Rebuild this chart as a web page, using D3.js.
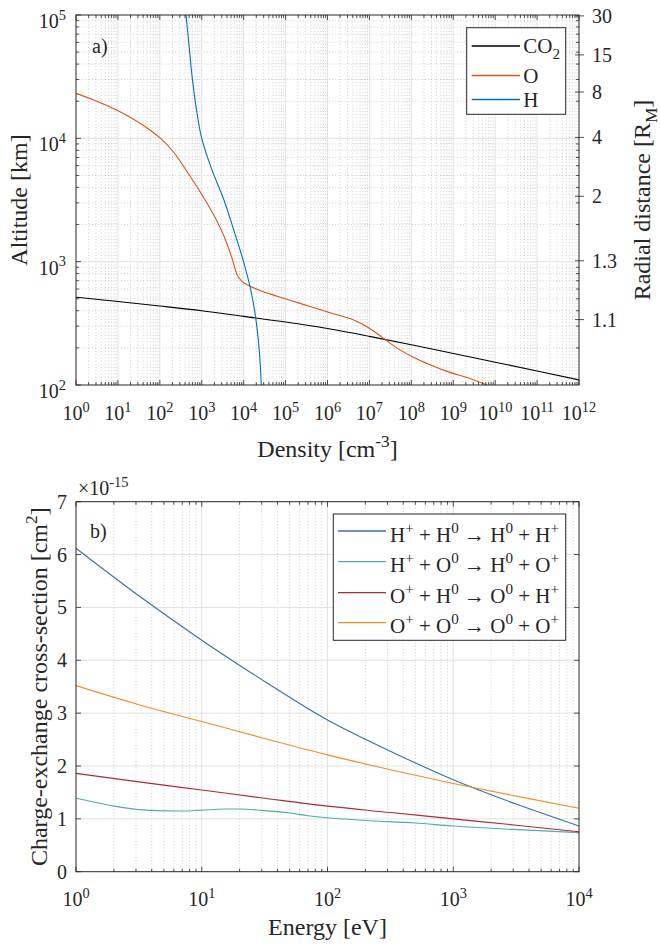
<!DOCTYPE html>
<html><head><meta charset="utf-8">
<script src="https://cdn.jsdelivr.net/npm/d3@7"></script>
<style>
body{margin:0;background:#fff}
svg text{fill:#262626;white-space:pre}
</style></head><body>
<svg id="chart" width="660" height="946" font-family="'Liberation Serif','Times New Roman',Tinos,'DejaVu Serif',serif"></svg>
<script>
// ---- Panel a: neutral density profiles (cm^-3) against altitude (km) ----
const co2Density  = [1e0, 1e1, 1e2, 1e3, 1e4, 1e5, 1e6, 1e7, 1e8, 1e9, 1e10, 1e11, 1e12];
const co2Altitude = [515, 475, 437, 400, 360, 324, 287, 248, 212, 180, 153, 130, 110];

const oDensity  = [1, 3.16, 9.33, 58.2, 100, 209, 437, 1000, 1995, 3548, 5248, 6918, 8913,
                   12590, 25120, 63100, 2.21e5, 1.15e6, 3.98e6, 1e7, 2.14e7, 4.47e7, 1.12e8,
                   2.79e8, 7.08e8, 2.51e9, 6.31e9];
const oAltitude = [23170, 19950, 16980, 11670, 10120, 7780, 5430, 3508, 2344, 1549, 1072, 785, 700,
                   646, 582, 525, 459, 385, 339, 288, 240, 200, 168,
                   146, 129, 113, 100];

const hDensity  = [421, 498, 589, 735, 998, 1726, 3388, 5888, 9931, 15240, 20180, 23930, 26360];
const hAltitude = [100000, 56230, 31620, 17780, 10000, 5623, 3162, 1778, 1000, 562, 316, 178, 100];

const speciesNames  = ["CO_2", "O", "H"];
const speciesColors = ["#000000", "#D95319", "#0072BD"];

// right-hand axis: radial distance in Mars radii
const marsRadiusKm = 3390;
const radialTicks = [1.1, 1.3, 2, 4, 8, 15, 30];

// ---- Panel b: charge-exchange cross-sections (10^-15 cm^2) against energy (eV) ----
const energy   = [1, 3.16, 10, 31.6, 100, 316, 1000, 3162, 10000];
const sigmaHH  = [6.12, 5.22, 4.38, 3.60, 2.87, 2.28, 1.74, 1.28, 0.865];
const sigmaOH  = [1.86, 1.70, 1.545, 1.39, 1.24, 1.12, 1.00, 0.88, 0.757];
const sigmaOO  = [3.52, 3.16, 2.84, 2.52, 2.21, 1.93, 1.67, 1.43, 1.20];
const energyHO = [1, 1.5, 2, 3, 5, 7, 10, 15, 20, 30, 50, 70, 100, 200, 500, 1000, 3000, 10000];
const sigmaHO  = [1.39, 1.30, 1.24, 1.18, 1.15, 1.148, 1.165, 1.185, 1.186, 1.16, 1.11, 1.06, 1.02, 0.97, 0.92, 0.865, 0.80, 0.74];

const reactionNames  = ["H^+ + H^0 \u2192 H^0 + H^+", "H^+ + O^0 \u2192 H^0 + O^+",
                        "O^+ + H^0 \u2192 O^0 + H^+", "O^+ + O^0 \u2192 O^0 + O^+"];
const reactionColors = ["#3b6fa3", "#52abab", "#ad2b35", "#f08c2a"];

const yTicksB = [0, 1, 2, 3, 4, 5, 6, 7];

// ---------------------------------------------------------------
const svg = d3.select("#chart");
const AX = "#262626", GRID = "#e2e2e2", MINOR = "#b9b9b9";
const TICK_FS = 20, LABEL_FS = 24, LEG_FS = 21;

// text with ^x / ^{..} superscripts and _x subscripts
function rich(sel, str, fs) {
  const re = /([\^_])(\{[^}]*\}|.)|([^\^_]+)/g;
  let m, cur = 0;
  while ((m = re.exec(str))) {
    if (m[3]) {
      sel.append("tspan").attr("dy", -cur).attr("font-size", fs).text(m[3]);
      cur = 0;
    } else {
      let s = m[2]; if (s[0] === "{") s = s.slice(1, -1);
      const t = m[1] === "^" ? -0.42 * fs : 0.3 * fs;
      sel.append("tspan").attr("dy", t - cur).attr("font-size", fs * 0.72).text(s);
      cur = t;
    }
  }
  return sel;
}
function label(g, x, y, str, fs, anchor, rot) {
  const t = g.append("text").attr("font-size", fs).attr("text-anchor", anchor || "start")
    .attr("transform", `translate(${x},${y})` + (rot ? ` rotate(${rot})` : ""));
  return rich(t, str, fs);
}
function minorLog(lo, hi) {
  const out = [];
  for (let e = Math.round(Math.log10(lo)); e < Math.round(Math.log10(hi)); e++)
    for (let m = 2; m <= 9; m++) out.push(m * Math.pow(10, e));
  return out;
}
function decades(lo, hi) {
  const out = [];
  for (let e = Math.round(Math.log10(lo)); e <= Math.round(Math.log10(hi)); e++) out.push(Math.pow(10, e));
  return out;
}

// ================= Panel a =================
const L = 76, R = 579;
const xA = d3.scaleLog().domain([1, 1e12]).range([L, R]);
const yA = d3.scaleLog().domain([100, 1e5]).range([385, 15]);
const gA = svg.append("g");

svg.append("defs").html(
  `<clipPath id="clipA"><rect x="${L}" y="15" width="${R - L}" height="370"/></clipPath>
   <clipPath id="clipB"><rect x="${L}" y="501.7" width="${R - L}" height="370"/></clipPath>`);

// grid
const xAMinor = minorLog(1, 1e12), yAMinor = minorLog(100, 1e5);
gA.selectAll(".vxm").data(xAMinor).join("line")
  .attr("x1", d => xA(d)).attr("x2", d => xA(d)).attr("y1", 15).attr("y2", 385)
  .attr("stroke", MINOR).attr("stroke-width", 0.7).attr("stroke-dasharray", "1 2.2");
gA.selectAll(".hym").data(yAMinor).join("line")
  .attr("y1", d => yA(d)).attr("y2", d => yA(d)).attr("x1", L).attr("x2", R)
  .attr("stroke", MINOR).attr("stroke-width", 0.7).attr("stroke-dasharray", "1 2.2");
gA.selectAll(".vx").data(decades(1, 1e12).slice(1, -1)).join("line")
  .attr("x1", d => xA(d)).attr("x2", d => xA(d)).attr("y1", 15).attr("y2", 385)
  .attr("stroke", GRID).attr("stroke-width", 1);
gA.selectAll(".hy").data(decades(100, 1e5).slice(1, -1)).join("line")
  .attr("y1", d => yA(d)).attr("y2", d => yA(d)).attr("x1", L).attr("x2", R)
  .attr("stroke", GRID).attr("stroke-width", 1);

// profiles (H is nearly vertical, so it is splined along altitude)
const profiles = [
  co2Density.map((d, i) => [d, co2Altitude[i]]),
  oDensity.map((d, i) => [d, oAltitude[i]]),
  hDensity.map((d, i) => [d, hAltitude[i]])
];
const lineAx = d3.line().x(d => xA(d[0])).y(d => yA(d[1])).curve(d3.curveMonotoneX);
const lineAy = d3.line().x(d => xA(d[0])).y(d => yA(d[1])).curve(d3.curveMonotoneY);
gA.append("g").attr("clip-path", "url(#clipA)").selectAll("path").data(profiles).join("path")
  .attr("d", (d, i) => i === 2 ? lineAy(d) : lineAx(d))
  .attr("fill", "none").attr("stroke", (d, i) => speciesColors[i]).attr("stroke-width", 1.1);

// box + ticks
gA.append("rect").attr("x", L).attr("y", 15).attr("width", R - L).attr("height", 370)
  .attr("fill", "none").attr("stroke", AX).attr("stroke-width", 1);
const ticksA = gA.append("g").attr("stroke", AX).attr("stroke-width", 0.8);
decades(1, 1e12).forEach(d => {
  ticksA.append("line").attr("x1", xA(d)).attr("x2", xA(d)).attr("y1", 385).attr("y2", 380);
  ticksA.append("line").attr("x1", xA(d)).attr("x2", xA(d)).attr("y1", 15).attr("y2", 20);
});
xAMinor.forEach(d => {
  ticksA.append("line").attr("x1", xA(d)).attr("x2", xA(d)).attr("y1", 385).attr("y2", 382);
  ticksA.append("line").attr("x1", xA(d)).attr("x2", xA(d)).attr("y1", 15).attr("y2", 18);
});
decades(100, 1e5).forEach(d => {
  ticksA.append("line").attr("x1", L).attr("x2", L + 5).attr("y1", yA(d)).attr("y2", yA(d));
});
yAMinor.forEach(d => {
  ticksA.append("line").attr("x1", L).attr("x2", L + 3).attr("y1", yA(d)).attr("y2", yA(d));
  ticksA.append("line").attr("x1", R).attr("x2", R - 3).attr("y1", yA(d)).attr("y2", yA(d));
});
radialTicks.forEach(r => {
  const y = yA((r - 1) * marsRadiusKm);
  ticksA.append("line").attr("x1", R - 4).attr("x2", R + 5).attr("y1", y).attr("y2", y);
});

// tick labels
decades(1, 1e12).forEach(d => label(gA, xA(d), 420, "10^{" + Math.round(Math.log10(d)) + "}", TICK_FS, "middle"));
decades(100, 1e5).forEach(d => label(gA, 66, yA(d) + 13, "10^{" + Math.round(Math.log10(d)) + "}", TICK_FS, "end"));
radialTicks.forEach(r => label(gA, 592, yA((r - 1) * marsRadiusKm) + 7, String(r), TICK_FS, "start"));

// axis titles
label(gA, 327.5, 457, "Density [cm^{-3}]", LABEL_FS, "middle");
label(gA, 27, 200, "Altitude [km]", LABEL_FS, "middle", -90);
label(gA, 650, 200, "Radial distance [R_M]", LABEL_FS, "middle", -90);
label(gA, 92, 53, "a)", TICK_FS, "start");

// legend
const legA = gA.append("g");
legA.append("rect").attr("x", 466.7).attr("y", 27.7).attr("width", 99).attr("height", 86.6)
  .attr("fill", "#fff").attr("stroke", AX).attr("stroke-width", 1);
const legAY = [46, 75.5, 99.5];
speciesNames.forEach((n, i) => {
  legA.append("line").attr("x1", 471.7).attr("x2", 520).attr("y1", legAY[i]).attr("y2", legAY[i])
    .attr("stroke", speciesColors[i]).attr("stroke-width", 1.3);
  label(legA, 523.3, legAY[i] + 7, n, LEG_FS, "start");
});

// ================= Panel b =================
const B0 = 871.7, B1 = 501.7;
const xB = d3.scaleLog().domain([1, 1e4]).range([L, R]);
const yB = d3.scaleLinear().domain([0, 7]).range([B0, B1]);
const gB = svg.append("g");

const xBMinor = minorLog(1, 1e4);
gB.selectAll(".vxm").data(xBMinor).join("line")
  .attr("x1", d => xB(d)).attr("x2", d => xB(d)).attr("y1", B1).attr("y2", B0)
  .attr("stroke", MINOR).attr("stroke-width", 0.7).attr("stroke-dasharray", "1 2.2");
gB.selectAll(".vx").data(decades(1, 1e4).slice(1, -1)).join("line")
  .attr("x1", d => xB(d)).attr("x2", d => xB(d)).attr("y1", B1).attr("y2", B0)
  .attr("stroke", GRID).attr("stroke-width", 1);
gB.selectAll(".hy").data(yTicksB.slice(1, -1)).join("line")
  .attr("y1", d => yB(d)).attr("y2", d => yB(d)).attr("x1", L).attr("x2", R)
  .attr("stroke", GRID).attr("stroke-width", 1);

const sections = [
  energy.map((e, i) => [e, sigmaHH[i]]),
  energyHO.map((e, i) => [e, sigmaHO[i]]),
  energy.map((e, i) => [e, sigmaOH[i]]),
  energy.map((e, i) => [e, sigmaOO[i]])
];
const lineB = d3.line().x(d => xB(d[0])).y(d => yB(d[1])).curve(d3.curveMonotoneX);
gB.append("g").attr("clip-path", "url(#clipB)").selectAll("path").data(sections).join("path")
  .attr("d", lineB).attr("fill", "none").attr("stroke", (d, i) => reactionColors[i]).attr("stroke-width", 1.1);

gB.append("rect").attr("x", L).attr("y", B1).attr("width", R - L).attr("height", B0 - B1)
  .attr("fill", "none").attr("stroke", AX).attr("stroke-width", 1);
const ticksB = gB.append("g").attr("stroke", AX).attr("stroke-width", 0.8);
decades(1, 1e4).forEach(d => {
  ticksB.append("line").attr("x1", xB(d)).attr("x2", xB(d)).attr("y1", B0).attr("y2", B0 - 5);
  ticksB.append("line").attr("x1", xB(d)).attr("x2", xB(d)).attr("y1", B1).attr("y2", B1 + 5);
});
xBMinor.forEach(d => {
  ticksB.append("line").attr("x1", xB(d)).attr("x2", xB(d)).attr("y1", B0).attr("y2", B0 - 3);
  ticksB.append("line").attr("x1", xB(d)).attr("x2", xB(d)).attr("y1", B1).attr("y2", B1 + 3);
});
yTicksB.forEach(v => {
  ticksB.append("line").attr("x1", L).attr("x2", L + 5).attr("y1", yB(v)).attr("y2", yB(v));
  ticksB.append("line").attr("x1", R).attr("x2", R - 5).attr("y1", yB(v)).attr("y2", yB(v));
});

decades(1, 1e4).forEach(d => label(gB, xB(d), 906, "10^{" + Math.round(Math.log10(d)) + "}", TICK_FS, "middle"));
yTicksB.forEach(v => label(gB, 67, yB(v) + 7, String(v), TICK_FS, "end"));
label(gB, 78, 495, "\u00d710^{-15}", TICK_FS, "start");

label(gB, 327.5, 935, "Energy [eV]", LABEL_FS, "middle");
label(gB, 47, (B0 + B1) / 2, "Charge-exchange cross-section [cm^2]", LABEL_FS, "middle", -90);
label(gB, 90, 538, "b)", TICK_FS, "start");

const legB = gB.append("g");
legB.append("rect").attr("x", 333.3).attr("y", 514).attr("width", 232.4).attr("height", 126.3)
  .attr("fill", "#fff").attr("stroke", AX).attr("stroke-width", 1);
const legBY = [531, 561.7, 592.7, 622.7];
reactionNames.forEach((n, i) => {
  legB.append("line").attr("x1", 338).attr("x2", 386).attr("y1", legBY[i]).attr("y2", legBY[i])
    .attr("stroke", reactionColors[i]).attr("stroke-width", 1.3);
  label(legB, 390, legBY[i] + 10.5, n, LEG_FS, "start");
});
</script>
</body></html>
